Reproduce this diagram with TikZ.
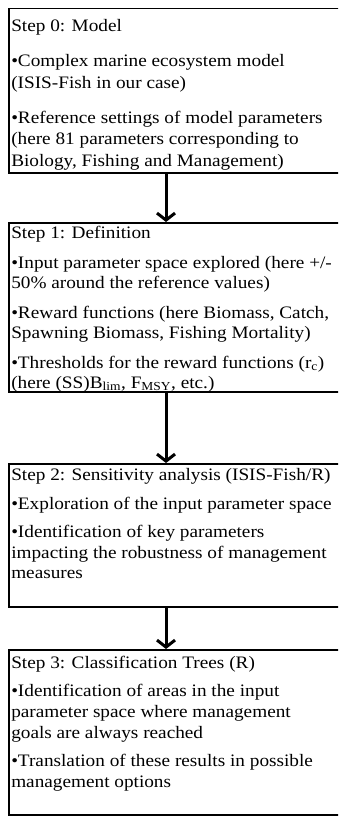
\documentclass[tikz,border=0pt]{standalone}
\usepackage{fontspec}
\setmainfont{Liberation Serif}[FakeStretch=1.1]
\usetikzlibrary{arrows.meta}

% height, top pad, line skip, paragraph skip, text
\newcommand{\steptext}[5]{\parbox[t][#1][t]{345bp}{\raggedright\setlength{\parindent}{0pt}%
	\fontsize{17.5bp}{#3}\selectfont\setlength{\parskip}{#4}%
	\vspace*{\dimexpr#2-#4\relax}#5}}

\tikzset{
	stepbox/.style={draw, line width=1.5bp, inner xsep=2.5bp, inner ysep=0pt, anchor=north west},
	flowarrow/.style={line width=3bp, -{Straight Barb[length=7bp,width=18bp]}}
}

\begin{document}
\begin{tikzpicture}[x=1bp, y=-1bp]
	\useasboundingbox (0,0) rectangle (338,816);
	\clip (0,0) rectangle (338,816);
	
	\node [stepbox] (model) at (8,8) {\steptext{164bp}{11bp}{21.5bp}{13.5bp}{%
		Step 0: Model\par
		•Complex marine ecosystem model\newline (ISIS-Fish in our case)\par
		•Reference settings of model parameters\newline (here 81 parameters corresponding to\newline Biology, Fishing and Management)}};
	
	\node [stepbox] (definition) at (8,222) {\steptext{169bp}{3bp}{20bp}{10bp}{%
		Step 1: Definition\par
		•Input parameter space explored (here +/-\newline 50\% around the reference values)\par
		•Reward functions (here Biomass, Catch,\newline Spawning Biomass, Fishing Mortality)\par
		•Thresholds for the reward functions (r\textsubscript{c})\newline (here (SS)B\textsubscript{lim}, F\textsubscript{MSY}, etc.)}};
	
	\node [stepbox] (sensitivity) at (8,463) {\steptext{143bp}{5bp}{20.5bp}{8bp}{%
		Step 2: Sensitivity analysis (ISIS-Fish/R)\par
		•Exploration of the input parameter space\par
		•Identification of key parameters\newline impacting the robustness of management\newline measures}};
	
	\node [stepbox] (trees) at (8,649) {\steptext{165bp}{6bp}{21bp}{7bp}{%
		Step 3: Classification Trees (R)\par
		•Identification of areas in the input\newline parameter space where management\newline goals are always reached\par
		•Translation of these results in possible\newline management options}};
	
	\draw [flowarrow] ([xshift=158bp]model.south west) -- ([xshift=158bp]definition.north west);
	\draw [flowarrow] ([xshift=158bp]definition.south west) -- ([xshift=158bp]sensitivity.north west);
	\draw [flowarrow] ([xshift=158bp]sensitivity.south west) -- ([xshift=158bp]trees.north west);
\end{tikzpicture}
\end{document}
